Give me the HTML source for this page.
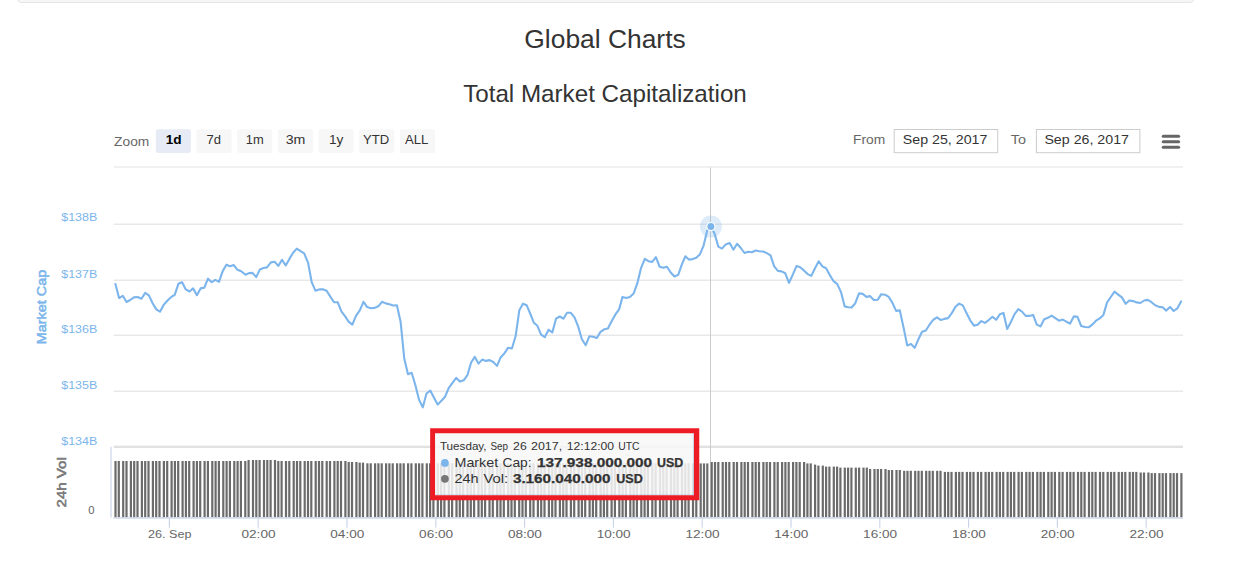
<!DOCTYPE html>
<html><head><meta charset="utf-8"><title>Global Charts</title>
<style>
html,body{margin:0;padding:0;background:#fff;}
body{width:1233px;height:566px;overflow:hidden;font-family:"Liberation Sans",sans-serif;}
svg{display:block;position:absolute;left:0;top:0;}
svg text{font-family:"Liberation Sans",sans-serif;}
.well{position:absolute;left:17px;top:-21px;width:1175px;height:21.6px;background:#f6f6f6;border:1px solid #e5e5e5;border-radius:4px;box-shadow:inset 0 1px 1px rgba(0,0,0,.05);}
</style></head><body>
<div class="well"></div>
<svg width="1233" height="566" viewBox="0 0 1233 566">

<text x="605" y="47.7" font-size="26.4" fill="#333" text-anchor="middle">Global Charts</text>
<text x="605" y="101.8" font-size="24.2" fill="#333" text-anchor="middle">Total Market Capitalization</text>
<rect x="114" y="166" width="1069" height="2" fill="#f1f1f1"/>
<rect x="113.8" y="223.60" width="1069.2" height="1.25" fill="#e4e4e4"/>
<rect x="113.8" y="279.60" width="1069.2" height="1.25" fill="#e4e4e4"/>
<rect x="113.8" y="334.60" width="1069.2" height="1.25" fill="#e4e4e4"/>
<rect x="113.8" y="390.60" width="1069.2" height="1.25" fill="#e4e4e4"/>
<rect x="113.8" y="445.65" width="1069.2" height="2.35" fill="#e1e1e1"/>
<rect x="110.05" y="446.8" width="2.0" height="70.8" fill="#dfe5f3"/>
<rect x="113.4" y="517.1" width="1069.6" height="1.7" fill="#d3dcee"/>
<rect x="168.80" y="517.5" width="1.2" height="10.2" fill="#ccd6eb"/>
<rect x="257.60" y="517.5" width="1.2" height="10.2" fill="#ccd6eb"/>
<rect x="346.40" y="517.5" width="1.2" height="10.2" fill="#ccd6eb"/>
<rect x="435.20" y="517.5" width="1.2" height="10.2" fill="#ccd6eb"/>
<rect x="524.00" y="517.5" width="1.2" height="10.2" fill="#ccd6eb"/>
<rect x="612.80" y="517.5" width="1.2" height="10.2" fill="#ccd6eb"/>
<rect x="701.60" y="517.5" width="1.2" height="10.2" fill="#ccd6eb"/>
<rect x="790.40" y="517.5" width="1.2" height="10.2" fill="#ccd6eb"/>
<rect x="879.20" y="517.5" width="1.2" height="10.2" fill="#ccd6eb"/>
<rect x="968.00" y="517.5" width="1.2" height="10.2" fill="#ccd6eb"/>
<rect x="1056.80" y="517.5" width="1.2" height="10.2" fill="#ccd6eb"/>
<rect x="1145.60" y="517.5" width="1.2" height="10.2" fill="#ccd6eb"/>
<rect x="710" y="167.5" width="1" height="350" fill="#cccccc"/>
<g fill="#6b6b6b"><rect x="114.40" y="461.0" width="2.2" height="56.1"/><rect x="117.70" y="461.0" width="2.2" height="56.1"/><rect x="122.10" y="461.0" width="2.2" height="56.1"/><rect x="125.40" y="461.0" width="2.2" height="56.1"/><rect x="129.80" y="461.0" width="2.2" height="56.1"/><rect x="133.10" y="461.0" width="2.2" height="56.1"/><rect x="136.40" y="461.0" width="2.2" height="56.1"/><rect x="140.80" y="461.0" width="2.2" height="56.1"/><rect x="144.10" y="461.0" width="2.2" height="56.1"/><rect x="147.40" y="461.0" width="2.2" height="56.1"/><rect x="151.80" y="461.0" width="2.2" height="56.1"/><rect x="155.10" y="461.0" width="2.2" height="56.1"/><rect x="158.40" y="461.0" width="2.2" height="56.1"/><rect x="162.80" y="461.0" width="2.2" height="56.1"/><rect x="166.10" y="461.0" width="2.2" height="56.1"/><rect x="170.50" y="461.0" width="2.2" height="56.1"/><rect x="173.80" y="461.0" width="2.2" height="56.1"/><rect x="177.10" y="461.0" width="2.2" height="56.1"/><rect x="181.50" y="461.0" width="2.2" height="56.1"/><rect x="184.80" y="461.0" width="2.2" height="56.1"/><rect x="188.10" y="461.0" width="2.2" height="56.1"/><rect x="192.50" y="461.0" width="2.2" height="56.1"/><rect x="195.80" y="461.0" width="2.2" height="56.1"/><rect x="199.10" y="461.0" width="2.2" height="56.1"/><rect x="203.50" y="461.0" width="2.2" height="56.1"/><rect x="206.80" y="461.0" width="2.2" height="56.1"/><rect x="211.20" y="461.0" width="2.2" height="56.1"/><rect x="214.50" y="461.0" width="2.2" height="56.1"/><rect x="217.80" y="461.0" width="2.2" height="56.1"/><rect x="222.20" y="461.0" width="2.2" height="56.1"/><rect x="225.50" y="461.0" width="2.2" height="56.1"/><rect x="228.80" y="461.0" width="2.2" height="56.1"/><rect x="233.20" y="461.0" width="2.2" height="56.1"/><rect x="236.50" y="461.0" width="2.2" height="56.1"/><rect x="239.80" y="461.0" width="2.2" height="56.1"/><rect x="244.20" y="461.0" width="2.2" height="56.1"/><rect x="247.50" y="460.0" width="2.2" height="57.1"/><rect x="251.90" y="460.0" width="2.2" height="57.1"/><rect x="255.20" y="460.0" width="2.2" height="57.1"/><rect x="258.50" y="460.0" width="2.2" height="57.1"/><rect x="262.90" y="460.0" width="2.2" height="57.1"/><rect x="266.20" y="460.0" width="2.2" height="57.1"/><rect x="269.50" y="460.0" width="2.2" height="57.1"/><rect x="273.90" y="460.0" width="2.2" height="57.1"/><rect x="277.20" y="461.0" width="2.2" height="56.1"/><rect x="280.50" y="461.0" width="2.2" height="56.1"/><rect x="284.90" y="461.0" width="2.2" height="56.1"/><rect x="288.20" y="461.0" width="2.2" height="56.1"/><rect x="292.60" y="461.0" width="2.2" height="56.1"/><rect x="295.90" y="461.0" width="2.2" height="56.1"/><rect x="299.20" y="461.0" width="2.2" height="56.1"/><rect x="303.60" y="461.0" width="2.2" height="56.1"/><rect x="306.90" y="461.0" width="2.2" height="56.1"/><rect x="310.20" y="461.0" width="2.2" height="56.1"/><rect x="314.60" y="461.0" width="2.2" height="56.1"/><rect x="317.90" y="461.0" width="2.2" height="56.1"/><rect x="321.20" y="461.0" width="2.2" height="56.1"/><rect x="325.60" y="461.0" width="2.2" height="56.1"/><rect x="328.90" y="461.0" width="2.2" height="56.1"/><rect x="333.30" y="461.0" width="2.2" height="56.1"/><rect x="336.60" y="461.0" width="2.2" height="56.1"/><rect x="339.90" y="461.0" width="2.2" height="56.1"/><rect x="344.30" y="461.0" width="2.2" height="56.1"/><rect x="347.60" y="462.0" width="2.2" height="55.1"/><rect x="350.90" y="462.0" width="2.2" height="55.1"/><rect x="355.30" y="462.0" width="2.2" height="55.1"/><rect x="358.60" y="462.6" width="2.2" height="54.5"/><rect x="361.90" y="462.6" width="2.2" height="54.5"/><rect x="366.30" y="463.3" width="2.2" height="53.8"/><rect x="369.60" y="463.3" width="2.2" height="53.8"/><rect x="374.00" y="463.3" width="2.2" height="53.8"/><rect x="377.30" y="463.3" width="2.2" height="53.8"/><rect x="380.60" y="463.3" width="2.2" height="53.8"/><rect x="385.00" y="463.3" width="2.2" height="53.8"/><rect x="388.30" y="463.3" width="2.2" height="53.8"/><rect x="391.60" y="463.3" width="2.2" height="53.8"/><rect x="396.00" y="463.3" width="2.2" height="53.8"/><rect x="399.30" y="463.3" width="2.2" height="53.8"/><rect x="402.60" y="463.3" width="2.2" height="53.8"/><rect x="407.00" y="463.3" width="2.2" height="53.8"/><rect x="410.30" y="463.3" width="2.2" height="53.8"/><rect x="414.70" y="463.3" width="2.2" height="53.8"/><rect x="418.00" y="463.3" width="2.2" height="53.8"/><rect x="421.30" y="463.3" width="2.2" height="53.8"/><rect x="425.70" y="463.3" width="2.2" height="53.8"/><rect x="429.00" y="463.3" width="2.2" height="53.8"/><rect x="432.30" y="463.3" width="2.2" height="53.8"/><rect x="436.70" y="463.3" width="2.2" height="53.8"/><rect x="440.00" y="463.3" width="2.2" height="53.8"/><rect x="443.30" y="463.3" width="2.2" height="53.8"/><rect x="447.70" y="463.3" width="2.2" height="53.8"/><rect x="451.00" y="463.3" width="2.2" height="53.8"/><rect x="455.40" y="463.3" width="2.2" height="53.8"/><rect x="458.70" y="463.3" width="2.2" height="53.8"/><rect x="462.00" y="463.3" width="2.2" height="53.8"/><rect x="466.40" y="463.3" width="2.2" height="53.8"/><rect x="469.70" y="463.3" width="2.2" height="53.8"/><rect x="473.00" y="463.3" width="2.2" height="53.8"/><rect x="477.40" y="463.3" width="2.2" height="53.8"/><rect x="480.70" y="463.3" width="2.2" height="53.8"/><rect x="484.00" y="463.3" width="2.2" height="53.8"/><rect x="488.40" y="463.3" width="2.2" height="53.8"/><rect x="491.70" y="463.3" width="2.2" height="53.8"/><rect x="496.10" y="463.3" width="2.2" height="53.8"/><rect x="499.40" y="463.3" width="2.2" height="53.8"/><rect x="502.70" y="463.3" width="2.2" height="53.8"/><rect x="507.10" y="463.3" width="2.2" height="53.8"/><rect x="510.40" y="463.3" width="2.2" height="53.8"/><rect x="513.70" y="463.3" width="2.2" height="53.8"/><rect x="518.10" y="463.3" width="2.2" height="53.8"/><rect x="521.40" y="463.3" width="2.2" height="53.8"/><rect x="524.70" y="463.3" width="2.2" height="53.8"/><rect x="529.10" y="463.3" width="2.2" height="53.8"/><rect x="532.40" y="463.3" width="2.2" height="53.8"/><rect x="536.80" y="463.3" width="2.2" height="53.8"/><rect x="540.10" y="463.3" width="2.2" height="53.8"/><rect x="543.40" y="463.3" width="2.2" height="53.8"/><rect x="547.80" y="463.3" width="2.2" height="53.8"/><rect x="551.10" y="463.3" width="2.2" height="53.8"/><rect x="554.40" y="463.3" width="2.2" height="53.8"/><rect x="558.80" y="463.3" width="2.2" height="53.8"/><rect x="562.10" y="463.3" width="2.2" height="53.8"/><rect x="565.40" y="463.3" width="2.2" height="53.8"/><rect x="569.80" y="463.3" width="2.2" height="53.8"/><rect x="573.10" y="463.3" width="2.2" height="53.8"/><rect x="577.50" y="463.3" width="2.2" height="53.8"/><rect x="580.80" y="463.3" width="2.2" height="53.8"/><rect x="584.10" y="463.3" width="2.2" height="53.8"/><rect x="588.50" y="463.3" width="2.2" height="53.8"/><rect x="591.80" y="463.3" width="2.2" height="53.8"/><rect x="595.10" y="463.3" width="2.2" height="53.8"/><rect x="599.50" y="463.3" width="2.2" height="53.8"/><rect x="602.80" y="463.3" width="2.2" height="53.8"/><rect x="606.10" y="463.3" width="2.2" height="53.8"/><rect x="610.50" y="463.3" width="2.2" height="53.8"/><rect x="613.80" y="463.3" width="2.2" height="53.8"/><rect x="618.20" y="463.3" width="2.2" height="53.8"/><rect x="621.50" y="463.3" width="2.2" height="53.8"/><rect x="624.80" y="463.3" width="2.2" height="53.8"/><rect x="629.20" y="463.3" width="2.2" height="53.8"/><rect x="632.50" y="463.3" width="2.2" height="53.8"/><rect x="635.80" y="463.3" width="2.2" height="53.8"/><rect x="640.20" y="463.3" width="2.2" height="53.8"/><rect x="643.50" y="463.3" width="2.2" height="53.8"/><rect x="646.80" y="463.3" width="2.2" height="53.8"/><rect x="651.20" y="463.3" width="2.2" height="53.8"/><rect x="654.50" y="463.3" width="2.2" height="53.8"/><rect x="658.90" y="463.3" width="2.2" height="53.8"/><rect x="662.20" y="463.3" width="2.2" height="53.8"/><rect x="665.50" y="463.3" width="2.2" height="53.8"/><rect x="669.90" y="463.3" width="2.2" height="53.8"/><rect x="673.20" y="463.3" width="2.2" height="53.8"/><rect x="676.50" y="463.3" width="2.2" height="53.8"/><rect x="680.90" y="463.3" width="2.2" height="53.8"/><rect x="684.20" y="463.3" width="2.2" height="53.8"/><rect x="687.50" y="463.3" width="2.2" height="53.8"/><rect x="691.90" y="463.3" width="2.2" height="53.8"/><rect x="695.20" y="463.3" width="2.2" height="53.8"/><rect x="699.60" y="463.4" width="2.2" height="53.7"/><rect x="702.90" y="463.4" width="2.2" height="53.7"/><rect x="706.20" y="463.4" width="2.2" height="53.7"/><rect x="710.60" y="462.0" width="2.2" height="55.1"/><rect x="713.90" y="462.0" width="2.2" height="55.1"/><rect x="717.20" y="462.0" width="2.2" height="55.1"/><rect x="721.60" y="462.0" width="2.2" height="55.1"/><rect x="724.90" y="462.0" width="2.2" height="55.1"/><rect x="728.20" y="462.0" width="2.2" height="55.1"/><rect x="732.60" y="462.0" width="2.2" height="55.1"/><rect x="735.90" y="462.0" width="2.2" height="55.1"/><rect x="740.30" y="462.0" width="2.2" height="55.1"/><rect x="743.60" y="462.0" width="2.2" height="55.1"/><rect x="746.90" y="462.0" width="2.2" height="55.1"/><rect x="751.30" y="462.0" width="2.2" height="55.1"/><rect x="754.60" y="462.0" width="2.2" height="55.1"/><rect x="757.90" y="462.0" width="2.2" height="55.1"/><rect x="762.30" y="462.0" width="2.2" height="55.1"/><rect x="765.60" y="462.0" width="2.2" height="55.1"/><rect x="768.90" y="462.0" width="2.2" height="55.1"/><rect x="773.30" y="462.0" width="2.2" height="55.1"/><rect x="776.60" y="462.0" width="2.2" height="55.1"/><rect x="781.00" y="462.0" width="2.2" height="55.1"/><rect x="784.30" y="462.0" width="2.2" height="55.1"/><rect x="787.60" y="462.0" width="2.2" height="55.1"/><rect x="792.00" y="462.0" width="2.2" height="55.1"/><rect x="795.30" y="462.0" width="2.2" height="55.1"/><rect x="798.60" y="462.0" width="2.2" height="55.1"/><rect x="803.00" y="462.0" width="2.2" height="55.1"/><rect x="806.30" y="463.4" width="2.2" height="53.7"/><rect x="809.60" y="463.4" width="2.2" height="53.7"/><rect x="814.00" y="464.6" width="2.2" height="52.5"/><rect x="817.30" y="465.6" width="2.2" height="51.5"/><rect x="821.70" y="465.6" width="2.2" height="51.5"/><rect x="825.00" y="466.6" width="2.2" height="50.5"/><rect x="828.30" y="466.6" width="2.2" height="50.5"/><rect x="832.70" y="466.6" width="2.2" height="50.5"/><rect x="836.00" y="466.6" width="2.2" height="50.5"/><rect x="839.30" y="467.6" width="2.2" height="49.5"/><rect x="843.70" y="467.6" width="2.2" height="49.5"/><rect x="847.00" y="467.6" width="2.2" height="49.5"/><rect x="850.30" y="467.6" width="2.2" height="49.5"/><rect x="854.70" y="467.6" width="2.2" height="49.5"/><rect x="858.00" y="467.6" width="2.2" height="49.5"/><rect x="862.40" y="467.6" width="2.2" height="49.5"/><rect x="865.70" y="467.6" width="2.2" height="49.5"/><rect x="869.00" y="469.0" width="2.2" height="48.1"/><rect x="873.40" y="469.0" width="2.2" height="48.1"/><rect x="876.70" y="469.0" width="2.2" height="48.1"/><rect x="880.00" y="469.0" width="2.2" height="48.1"/><rect x="884.40" y="469.0" width="2.2" height="48.1"/><rect x="887.70" y="470.0" width="2.2" height="47.1"/><rect x="891.00" y="470.0" width="2.2" height="47.1"/><rect x="895.40" y="470.0" width="2.2" height="47.1"/><rect x="898.70" y="470.0" width="2.2" height="47.1"/><rect x="903.10" y="470.8" width="2.2" height="46.3"/><rect x="906.40" y="470.8" width="2.2" height="46.3"/><rect x="909.70" y="470.8" width="2.2" height="46.3"/><rect x="914.10" y="470.8" width="2.2" height="46.3"/><rect x="917.40" y="470.8" width="2.2" height="46.3"/><rect x="920.70" y="470.8" width="2.2" height="46.3"/><rect x="925.10" y="470.8" width="2.2" height="46.3"/><rect x="928.40" y="470.8" width="2.2" height="46.3"/><rect x="931.70" y="470.8" width="2.2" height="46.3"/><rect x="936.10" y="470.8" width="2.2" height="46.3"/><rect x="939.40" y="470.8" width="2.2" height="46.3"/><rect x="943.80" y="471.9" width="2.2" height="45.2"/><rect x="947.10" y="471.9" width="2.2" height="45.2"/><rect x="950.40" y="471.9" width="2.2" height="45.2"/><rect x="954.80" y="471.9" width="2.2" height="45.2"/><rect x="958.10" y="471.9" width="2.2" height="45.2"/><rect x="961.40" y="471.9" width="2.2" height="45.2"/><rect x="965.80" y="471.9" width="2.2" height="45.2"/><rect x="969.10" y="471.9" width="2.2" height="45.2"/><rect x="972.40" y="471.9" width="2.2" height="45.2"/><rect x="976.80" y="471.9" width="2.2" height="45.2"/><rect x="980.10" y="471.9" width="2.2" height="45.2"/><rect x="984.50" y="471.9" width="2.2" height="45.2"/><rect x="987.80" y="471.9" width="2.2" height="45.2"/><rect x="991.10" y="471.9" width="2.2" height="45.2"/><rect x="995.50" y="471.9" width="2.2" height="45.2"/><rect x="998.80" y="471.9" width="2.2" height="45.2"/><rect x="1002.10" y="471.9" width="2.2" height="45.2"/><rect x="1006.50" y="471.9" width="2.2" height="45.2"/><rect x="1009.80" y="471.9" width="2.2" height="45.2"/><rect x="1013.10" y="471.9" width="2.2" height="45.2"/><rect x="1017.50" y="471.9" width="2.2" height="45.2"/><rect x="1020.80" y="471.9" width="2.2" height="45.2"/><rect x="1025.20" y="471.9" width="2.2" height="45.2"/><rect x="1028.50" y="471.9" width="2.2" height="45.2"/><rect x="1031.80" y="471.9" width="2.2" height="45.2"/><rect x="1036.20" y="471.9" width="2.2" height="45.2"/><rect x="1039.50" y="471.9" width="2.2" height="45.2"/><rect x="1042.80" y="471.9" width="2.2" height="45.2"/><rect x="1047.20" y="471.9" width="2.2" height="45.2"/><rect x="1050.50" y="471.9" width="2.2" height="45.2"/><rect x="1053.80" y="471.9" width="2.2" height="45.2"/><rect x="1058.20" y="471.9" width="2.2" height="45.2"/><rect x="1061.50" y="471.9" width="2.2" height="45.2"/><rect x="1065.90" y="471.9" width="2.2" height="45.2"/><rect x="1069.20" y="471.9" width="2.2" height="45.2"/><rect x="1072.50" y="471.9" width="2.2" height="45.2"/><rect x="1076.90" y="471.9" width="2.2" height="45.2"/><rect x="1080.20" y="471.9" width="2.2" height="45.2"/><rect x="1083.50" y="471.9" width="2.2" height="45.2"/><rect x="1087.90" y="471.9" width="2.2" height="45.2"/><rect x="1091.20" y="471.9" width="2.2" height="45.2"/><rect x="1094.50" y="471.9" width="2.2" height="45.2"/><rect x="1098.90" y="471.9" width="2.2" height="45.2"/><rect x="1102.20" y="471.9" width="2.2" height="45.2"/><rect x="1106.60" y="471.9" width="2.2" height="45.2"/><rect x="1109.90" y="471.9" width="2.2" height="45.2"/><rect x="1113.20" y="471.9" width="2.2" height="45.2"/><rect x="1117.60" y="471.9" width="2.2" height="45.2"/><rect x="1120.90" y="471.9" width="2.2" height="45.2"/><rect x="1124.20" y="471.9" width="2.2" height="45.2"/><rect x="1128.60" y="471.9" width="2.2" height="45.2"/><rect x="1131.90" y="471.9" width="2.2" height="45.2"/><rect x="1135.20" y="471.9" width="2.2" height="45.2"/><rect x="1139.60" y="472.5" width="2.2" height="44.6"/><rect x="1142.90" y="472.5" width="2.2" height="44.6"/><rect x="1147.30" y="472.5" width="2.2" height="44.6"/><rect x="1150.60" y="473.1" width="2.2" height="44.0"/><rect x="1153.90" y="473.1" width="2.2" height="44.0"/><rect x="1158.30" y="473.1" width="2.2" height="44.0"/><rect x="1161.60" y="473.1" width="2.2" height="44.0"/><rect x="1164.90" y="473.1" width="2.2" height="44.0"/><rect x="1169.30" y="473.1" width="2.2" height="44.0"/><rect x="1172.60" y="473.1" width="2.2" height="44.0"/><rect x="1175.90" y="473.1" width="2.2" height="44.0"/><rect x="1180.30" y="473.1" width="2.2" height="44.0"/></g>
<path d="M115.4 284.1 L119.1 298.1 L122.8 295.8 L126.5 302.0 L130.2 300.0 L133.9 297.4 L137.6 297.0 L141.5 298.7 L145.2 292.9 L148.9 295.4 L152.6 303.2 L156.3 309.4 L160.0 311.7 L163.6 304.9 L167.3 300.7 L171.0 297.2 L174.7 294.8 L178.4 283.8 L182.1 282.2 L185.8 289.4 L189.5 291.5 L193.2 288.4 L196.9 295.2 L200.6 288.4 L204.3 287.6 L208.0 278.7 L211.7 282.2 L215.3 279.9 L219.0 281.8 L222.7 271.1 L226.4 264.7 L230.1 266.3 L233.8 265.1 L237.5 269.8 L241.2 271.3 L245.5 274.8 L249.0 273.1 L252.5 272.9 L256.2 277.1 L259.9 269.4 L263.5 268.0 L267.0 267.4 L270.9 262.4 L274.6 261.8 L278.3 265.9 L282.0 259.8 L285.7 265.5 L289.4 258.9 L293.1 252.7 L296.8 248.6 L300.5 251.1 L304.2 253.4 L308.1 262.8 L311.7 282.2 L315.4 290.7 L319.1 289.4 L322.8 289.2 L326.6 290.8 L330.3 296.6 L334.0 302.3 L337.8 302.3 L341.5 311.6 L345.2 316.4 L348.6 321.7 L352.3 324.6 L356.0 315.9 L359.8 310.3 L363.5 301.8 L367.2 307.1 L370.9 308.2 L374.6 307.9 L378.3 306.3 L382.0 301.8 L385.7 303.4 L389.4 304.2 L393.2 305.5 L396.9 305.3 L400.6 321.7 L404.3 358.8 L408.0 374.2 L411.7 372.8 L415.4 385.3 L419.1 399.9 L422.8 407.3 L426.5 393.5 L430.3 390.6 L434.0 397.7 L437.7 404.6 L441.4 400.7 L445.1 396.7 L448.8 387.9 L452.5 382.9 L456.2 377.9 L459.9 381.6 L463.7 380.3 L467.4 375.2 L471.1 362.5 L474.8 356.9 L478.5 363.6 L482.2 359.6 L485.9 360.9 L489.6 360.1 L493.3 362.0 L497.0 365.9 L500.8 357.2 L504.5 353.2 L508.2 347.7 L511.9 348.5 L515.6 336.3 L519.3 310.3 L523.0 303.7 L526.7 305.3 L530.4 314.0 L533.9 322.8 L537.4 325.8 L541.1 334.6 L544.8 337.2 L548.6 329.8 L552.3 332.4 L556.0 318.7 L559.7 316.5 L563.4 318.7 L567.1 312.8 L570.8 312.8 L574.5 317.3 L578.2 326.6 L581.9 339.3 L585.7 345.2 L589.4 336.2 L593.1 336.7 L596.8 338.0 L600.5 331.9 L604.2 329.3 L607.9 328.5 L611.6 321.3 L615.3 314.7 L619.1 309.4 L622.5 296.9 L626.2 298.0 L629.9 296.9 L633.6 293.5 L637.3 283.4 L641.1 267.8 L644.8 258.8 L648.5 261.2 L652.2 261.9 L655.9 257.2 L659.6 266.7 L663.3 267.8 L667.0 266.7 L670.7 272.5 L674.4 276.5 L678.2 274.9 L681.9 264.3 L685.3 256.3 L688.9 259.6 L692.6 259.1 L696.3 257.8 L700.0 254.2 L703.6 245.6 L707.2 230.6 L710.9 226.6 L714.6 233.8 L718.3 246.6 L722.0 248.6 L725.7 244.4 L729.7 243.0 L733.4 249.7 L737.1 243.8 L740.8 248.0 L744.5 253.0 L748.2 251.8 L751.9 252.3 L755.6 250.5 L759.3 251.3 L763.1 251.5 L766.8 253.1 L770.5 255.3 L774.2 266.4 L777.9 270.9 L781.6 271.4 L785.3 273.3 L789.0 282.8 L792.7 274.9 L796.5 266.1 L800.2 267.2 L803.9 270.4 L807.6 274.1 L811.3 275.9 L815.0 268.2 L818.7 261.3 L822.4 266.4 L826.1 268.2 L829.8 275.1 L833.6 281.2 L837.3 284.1 L841.0 292.1 L844.7 306.4 L848.4 307.2 L851.6 307.5 L855.3 303.2 L859.0 293.4 L862.7 293.9 L866.4 296.9 L870.1 296.1 L873.8 300.0 L877.6 299.8 L881.3 294.2 L885.0 294.7 L888.7 296.9 L892.4 302.7 L896.1 310.9 L899.8 310.4 L903.5 327.3 L907.2 345.4 L911.0 344.0 L914.7 347.8 L918.4 339.3 L922.1 331.8 L925.8 330.5 L929.5 324.7 L933.2 319.9 L936.9 317.3 L940.6 319.9 L944.3 318.9 L948.1 318.1 L951.8 313.1 L955.5 306.8 L959.1 303.6 L962.8 305.4 L966.5 313.1 L970.2 320.3 L973.9 325.6 L977.6 324.8 L981.3 321.1 L985.0 322.9 L988.7 320.0 L992.4 316.8 L996.1 319.8 L999.8 314.3 L1003.5 312.9 L1007.2 328.9 L1010.9 321.9 L1014.6 314.1 L1018.3 309.2 L1022.0 311.6 L1025.7 315.9 L1029.4 315.9 L1033.1 314.9 L1036.8 324.6 L1040.5 326.4 L1044.2 319.2 L1047.9 317.8 L1051.6 315.7 L1055.3 318.2 L1059.0 320.7 L1062.7 319.6 L1066.4 321.7 L1070.1 323.6 L1073.8 316.4 L1077.5 316.8 L1081.2 326.0 L1084.9 327.0 L1088.6 327.3 L1092.3 324.6 L1096.0 320.7 L1099.7 318.4 L1103.4 314.9 L1107.1 302.4 L1110.8 297.0 L1114.5 291.7 L1118.2 294.6 L1121.9 297.4 L1125.6 303.8 L1129.3 300.5 L1133.0 301.1 L1136.7 302.4 L1140.4 303.0 L1144.1 300.5 L1147.8 299.9 L1151.5 302.2 L1155.2 305.2 L1158.9 306.9 L1162.6 307.3 L1166.3 310.6 L1170.0 306.9 L1173.7 311.0 L1177.4 308.3 L1181.2 301.3" fill="none" stroke="#7cb5ec" stroke-width="2.1" stroke-linejoin="round" stroke-linecap="round"/>
<circle cx="710.9" cy="226.6" r="11" fill="#7cb5ec" fill-opacity="0.25"/>
<circle cx="710.9" cy="226.6" r="4.1" fill="#7cb5ec" stroke="#ffffff" stroke-width="1.2"/>
<text x="61.2" y="220.7" font-size="11.3" fill="#7cb5ec" font-weight="normal" textLength="36.1" lengthAdjust="spacingAndGlyphs" >$138B</text>
<text x="61.2" y="277.7" font-size="11.3" fill="#7cb5ec" font-weight="normal" textLength="36.1" lengthAdjust="spacingAndGlyphs" >$137B</text>
<text x="61.2" y="332.5" font-size="11.3" fill="#7cb5ec" font-weight="normal" textLength="36.1" lengthAdjust="spacingAndGlyphs" >$136B</text>
<text x="61.2" y="389.0" font-size="11.3" fill="#7cb5ec" font-weight="normal" textLength="36.1" lengthAdjust="spacingAndGlyphs" >$135B</text>
<text x="61.2" y="445.0" font-size="11.3" fill="#7cb5ec" font-weight="normal" textLength="36.1" lengthAdjust="spacingAndGlyphs" >$134B</text>
<text x="88.3" y="514.3" font-size="11.3" fill="#666" font-weight="normal" textLength="6.3" lengthAdjust="spacingAndGlyphs" >0</text>
<g transform="translate(45.7,344.2) rotate(-90)"><text x="0.0" y="0.0" font-size="12.6" fill="#7cb5ec" font-weight="normal" textLength="74.4" lengthAdjust="spacingAndGlyphs" stroke="#7cb5ec" stroke-width="0.55">Market Cap</text></g>
<g transform="translate(66.3,507.5) rotate(-90)"><text x="0.0" y="0.0" font-size="12.6" fill="#777" font-weight="normal" textLength="50.3" lengthAdjust="spacingAndGlyphs" stroke="#777" stroke-width="0.55">24h Vol</text></g>
<text x="148.0" y="537.5" font-size="11.3" fill="#666" font-weight="normal" textLength="43.4" lengthAdjust="spacingAndGlyphs" >26. Sep</text>
<text x="241.5" y="537.5" font-size="11.3" fill="#666" font-weight="normal" textLength="34.0" lengthAdjust="spacingAndGlyphs" >02:00</text>
<text x="330.3" y="537.5" font-size="11.3" fill="#666" font-weight="normal" textLength="34.0" lengthAdjust="spacingAndGlyphs" >04:00</text>
<text x="419.1" y="537.5" font-size="11.3" fill="#666" font-weight="normal" textLength="34.0" lengthAdjust="spacingAndGlyphs" >06:00</text>
<text x="507.9" y="537.5" font-size="11.3" fill="#666" font-weight="normal" textLength="34.0" lengthAdjust="spacingAndGlyphs" >08:00</text>
<text x="596.7" y="537.5" font-size="11.3" fill="#666" font-weight="normal" textLength="34.0" lengthAdjust="spacingAndGlyphs" >10:00</text>
<text x="685.5" y="537.5" font-size="11.3" fill="#666" font-weight="normal" textLength="34.0" lengthAdjust="spacingAndGlyphs" >12:00</text>
<text x="774.3" y="537.5" font-size="11.3" fill="#666" font-weight="normal" textLength="34.0" lengthAdjust="spacingAndGlyphs" >14:00</text>
<text x="863.1" y="537.5" font-size="11.3" fill="#666" font-weight="normal" textLength="34.0" lengthAdjust="spacingAndGlyphs" >16:00</text>
<text x="951.9" y="537.5" font-size="11.3" fill="#666" font-weight="normal" textLength="34.0" lengthAdjust="spacingAndGlyphs" >18:00</text>
<text x="1040.7" y="537.5" font-size="11.3" fill="#666" font-weight="normal" textLength="34.0" lengthAdjust="spacingAndGlyphs" >20:00</text>
<text x="1129.5" y="537.5" font-size="11.3" fill="#666" font-weight="normal" textLength="34.0" lengthAdjust="spacingAndGlyphs" >22:00</text>
<text x="114.1" y="145.7" font-size="12.6" fill="#666" font-weight="normal" textLength="35.2" lengthAdjust="spacingAndGlyphs" >Zoom</text>
<rect x="155.8" y="129.2" width="35.1" height="23.8" rx="2.2" fill="#e6ebf5"/>
<text x="165.8" y="143.8" font-size="12.6" fill="#000" font-weight="bold" textLength="15.9" lengthAdjust="spacingAndGlyphs" >1d</text>
<rect x="196.5" y="129.2" width="35.1" height="23.8" rx="2.2" fill="#f7f7f7"/>
<text x="206.5" y="143.8" font-size="12.6" fill="#333" font-weight="normal" textLength="14.5" lengthAdjust="spacingAndGlyphs" >7d</text>
<rect x="237.2" y="129.2" width="35.1" height="23.8" rx="2.2" fill="#f7f7f7"/>
<text x="245.8" y="143.8" font-size="12.6" fill="#333" font-weight="normal" textLength="17.9" lengthAdjust="spacingAndGlyphs" >1m</text>
<rect x="277.8" y="129.2" width="35.1" height="23.8" rx="2.2" fill="#f7f7f7"/>
<text x="285.7" y="143.8" font-size="12.6" fill="#333" font-weight="normal" textLength="19.7" lengthAdjust="spacingAndGlyphs" >3m</text>
<rect x="318.5" y="129.2" width="35.1" height="23.8" rx="2.2" fill="#f7f7f7"/>
<text x="329.0" y="143.8" font-size="12.6" fill="#333" font-weight="normal" textLength="14.4" lengthAdjust="spacingAndGlyphs" >1y</text>
<rect x="359.2" y="129.2" width="35.1" height="23.8" rx="2.2" fill="#f7f7f7"/>
<text x="362.9" y="143.8" font-size="12.6" fill="#333" font-weight="normal" textLength="26.2" lengthAdjust="spacingAndGlyphs" >YTD</text>
<rect x="399.9" y="129.2" width="35.1" height="23.8" rx="2.2" fill="#f7f7f7"/>
<text x="405.0" y="143.8" font-size="12.6" fill="#333" font-weight="normal" textLength="23.3" lengthAdjust="spacingAndGlyphs" >ALL</text>
<text x="853.1" y="143.9" font-size="12.6" fill="#666" font-weight="normal" textLength="32.2" lengthAdjust="spacingAndGlyphs" >From</text>
<rect x="894.2" y="129.5" width="103.5" height="23.2" fill="#fff" stroke="#cccccc" stroke-width="1"/>
<text x="902.8" y="144.2" font-size="13.1" fill="#333" font-weight="normal" textLength="84.6" lengthAdjust="spacingAndGlyphs" >Sep 25, 2017</text>
<text x="1010.8" y="143.9" font-size="12.6" fill="#666" font-weight="normal" textLength="15.2" lengthAdjust="spacingAndGlyphs" >To</text>
<rect x="1036.4" y="129.5" width="103.5" height="23.2" fill="#fff" stroke="#cccccc" stroke-width="1"/>
<text x="1044.4" y="144.2" font-size="13.1" fill="#333" font-weight="normal" textLength="84.6" lengthAdjust="spacingAndGlyphs" >Sep 26, 2017</text>
<line x1="1163.3" x2="1178.6" y1="136.3" y2="136.3" stroke="#666" stroke-width="3.1" stroke-linecap="round"/>
<line x1="1163.3" x2="1178.6" y1="141.8" y2="141.8" stroke="#666" stroke-width="3.1" stroke-linecap="round"/>
<line x1="1163.3" x2="1178.6" y1="147.3" y2="147.3" stroke="#666" stroke-width="3.1" stroke-linecap="round"/>
<rect x="434" y="432.5" width="261" height="63.5" fill="#f7f7f7" fill-opacity="0.86"/>
<rect x="435" y="494.2" width="259" height="1" fill="#7cb5ec" fill-opacity="0.3"/>
<path fill-rule="evenodd" fill="#ed1c24" d="M430.15 428.25H699.25V500.15H430.15Z M435.05 433.15V495.25H693.9V433.15Z"/>
<text x="439.9" y="449.9" font-size="10.4" fill="#333" font-weight="normal" textLength="46.7" lengthAdjust="spacingAndGlyphs" >Tuesday,</text>
<text x="490.4" y="449.9" font-size="10.4" fill="#333" font-weight="normal" textLength="17.5" lengthAdjust="spacingAndGlyphs" >Sep</text>
<text x="513.1" y="449.9" font-size="10.4" fill="#333" font-weight="normal" textLength="13.6" lengthAdjust="spacingAndGlyphs" >26</text>
<text x="531.0" y="449.9" font-size="10.4" fill="#333" font-weight="normal" textLength="31.1" lengthAdjust="spacingAndGlyphs" >2017,</text>
<text x="566.8" y="449.9" font-size="10.4" fill="#333" font-weight="normal" textLength="47.3" lengthAdjust="spacingAndGlyphs" >12:12:00</text>
<text x="618.2" y="449.9" font-size="10.4" fill="#333" font-weight="normal" textLength="21.4" lengthAdjust="spacingAndGlyphs" >UTC</text>
<circle cx="444.9" cy="462.9" r="3.9" fill="#7cb5ec"/>
<text x="454.5" y="467.0" font-size="11.9" fill="#333" font-weight="normal" textLength="43.7" lengthAdjust="spacingAndGlyphs" >Market</text>
<text x="502.5" y="467.0" font-size="11.9" fill="#333" font-weight="normal" textLength="29.1" lengthAdjust="spacingAndGlyphs" >Cap:</text>
<text x="537.0" y="467.0" font-size="11.9" fill="#333" font-weight="bold" textLength="115.1" lengthAdjust="spacingAndGlyphs" stroke="#333" stroke-width="0.25">137.938.000.000</text>
<text x="657.1" y="467.0" font-size="11.9" fill="#333" font-weight="bold" textLength="26.2" lengthAdjust="spacingAndGlyphs" stroke="#333" stroke-width="0.25">USD</text>
<circle cx="444.9" cy="478.8" r="3.9" fill="#777"/>
<text x="454.5" y="483.0" font-size="11.9" fill="#333" font-weight="normal" textLength="24.1" lengthAdjust="spacingAndGlyphs" >24h</text>
<text x="483.4" y="483.0" font-size="11.9" fill="#333" font-weight="normal" textLength="24.7" lengthAdjust="spacingAndGlyphs" >Vol:</text>
<text x="512.9" y="483.0" font-size="11.9" fill="#333" font-weight="bold" textLength="97.6" lengthAdjust="spacingAndGlyphs" stroke="#333" stroke-width="0.25">3.160.040.000</text>
<text x="616.3" y="483.0" font-size="11.9" fill="#333" font-weight="bold" textLength="26.5" lengthAdjust="spacingAndGlyphs" stroke="#333" stroke-width="0.25">USD</text>
<rect x="692.9" y="433" width="1" height="62.5" fill="#7cb5ec" fill-opacity="0.35"/>
</svg></body></html>
